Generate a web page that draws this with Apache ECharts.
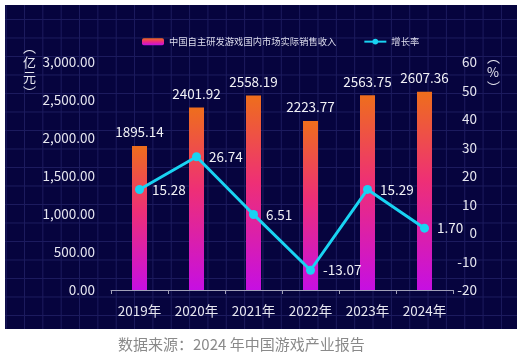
<!DOCTYPE html>
<html>
<head>
<meta charset="utf-8">
<script src="https://cdn.jsdelivr.net/npm/echarts@6/dist/echarts.min.js"></script>
<style>
html,body{margin:0;padding:0;background:#fff;}
#bg{position:absolute;left:5px;top:5px;width:512px;height:324px;background-color:#06043e;
background-image:
 linear-gradient(to right, #1c1b5e 1px, transparent 1px),
 linear-gradient(to bottom, #1c1b5e 1px, transparent 1px);
background-size: 18.35px 18.5px;
background-position: 19px 14px;}
#chart{position:absolute;left:0;top:0;width:525px;height:355px;}
</style>
</head>
<body>
<div id="bg"></div>
<div id="chart"></div>
<script>
const categories = ['2019年','2020年','2021年','2022年','2023年','2024年'];
const revenue = [1895.14, 2401.92, 2558.19, 2223.77, 2563.75, 2607.36];
const growth = [15.28, 26.74, 6.51, -13.07, 15.29, 1.70];
const revenueName = '中国自主研发游戏国内市场实际销售收入';
const growthName = '增长率';
const sourceText = '数据来源：2024 年中国游戏产业报告';

const FONT = "'Noto Sans CJK SC', 'Noto Sans', sans-serif";
const chart = echarts.init(document.getElementById('chart'), null, {renderer:'canvas'});
const barGrad = new echarts.graphic.LinearGradient(0,0,0,1,[
  {offset:0, color:'#ee6e1c'},
  {offset:0.45, color:'#ee2f76'},
  {offset:1, color:'#c60fe2'}
]);
chart.setOption({
  backgroundColor:'transparent',
  textStyle:{fontFamily:FONT},
  title:{text:sourceText, left:113, top:332,
    textStyle:{color:'#8a8a8a', fontSize:15, fontWeight:'normal', fontFamily:FONT}},
  legend:{left:137, top:32, itemWidth:22, itemHeight:7, itemGap:27,
    textStyle:{color:'#dcdcec', fontSize:9.3, fontFamily:FONT},
    data:[revenueName, growthName]},
  grid:{left:111, right:72, top:62, bottom:65},
  xAxis:{type:'category', data:categories,
    axisLine:{lineStyle:{color:'#a0a0b8', width:1}},
    axisTick:{show:true, length:4, lineStyle:{color:'#a0a0b8'}},
    axisLabel:{color:'#e6e6f0', fontSize:13.5, margin:14, fontFamily:FONT},
    splitLine:{show:false}},
  yAxis:[
    {type:'value', min:0, max:3000, interval:500,
     axisLine:{show:false}, axisTick:{show:false}, splitLine:{show:false},
     axisLabel:{color:'#e6e6f0', fontSize:13.5, margin:16, fontFamily:FONT,
       formatter:v=>v.toLocaleString('en-US',{minimumFractionDigits:2,maximumFractionDigits:2})}},
    {type:'value', min:-20, max:60, interval:10,
     axisLine:{show:false}, axisTick:{show:false}, splitLine:{show:false},
     axisLabel:{color:'#e6e6f0', fontSize:13.5, margin:24, align:'right', fontFamily:FONT}}
  ],
  graphic:[
    {type:'text', left:23, top:40, style:{text:'︵\n亿\n元\n︶', fill:'#e6e6f0', font:'13px '+FONT, lineHeight:15, align:'center'}},
    {type:'text', left:487, top:50, style:{text:'︵\n%\n︶', fill:'#e6e6f0', font:'13px '+FONT, lineHeight:15, align:'center'}}
  ],
  series:[
    {name:revenueName, type:'bar', data:revenue, barWidth:15, yAxisIndex:0,
     itemStyle:{color:barGrad},
     label:{show:true, position:'top', distance:7, color:'#f0f0f5', fontSize:13.5, fontFamily:FONT,
       formatter:p=>p.value.toFixed(2)}},
    {name:growthName, type:'line', data:growth, yAxisIndex:1,
     symbol:'circle', symbolSize:9,
     lineStyle:{color:'#19d3f2', width:3},
     itemStyle:{color:'#19d3f2'},
     label:{show:true, position:'right', distance:8, color:'#f0f0f5', fontSize:13.5, fontFamily:FONT,
       formatter:p=>p.value.toFixed(2)}}
  ]
});
</script>
</body>
</html>
